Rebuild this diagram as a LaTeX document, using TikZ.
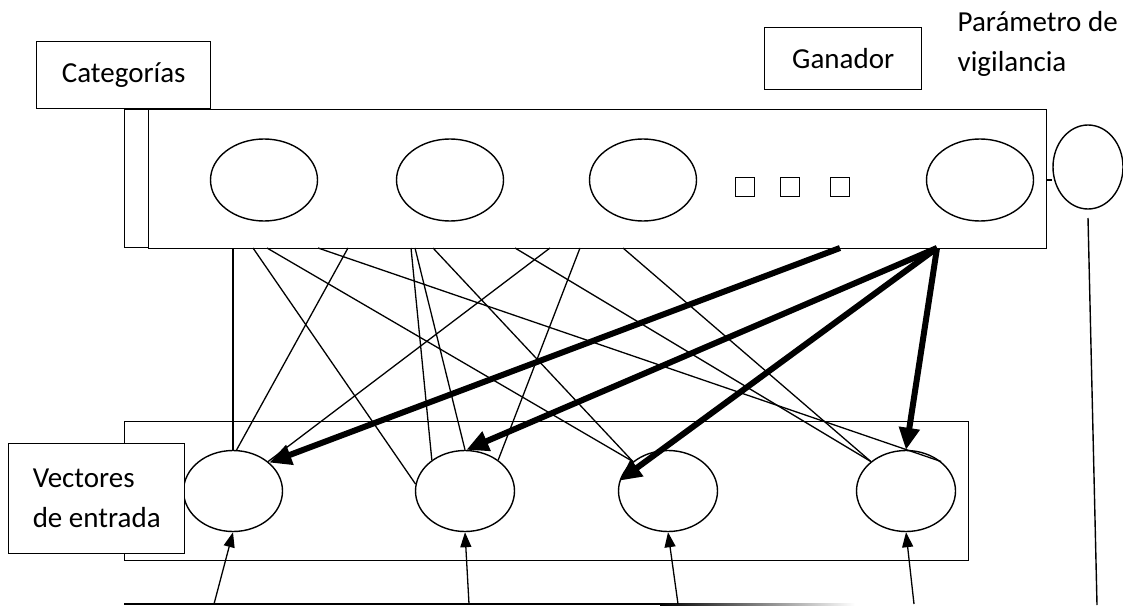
\documentclass[tikz,border=0pt]{standalone}
\usepackage{fontspec}
\setmainfont{Carlito}
\usetikzlibrary{arrows.meta,shapes.geometric}
\begin{document}
\begin{tikzpicture}[x=1pt,y=-1pt,
  line width=1.4pt,
  txt/.style={font=\fontsize{29}{40}\selectfont},
  panel/.style={draw, rectangle, inner sep=0pt, anchor=north west},
  tag/.style={draw, fill=white, rectangle, inner sep=0pt, anchor=north west, txt},
  topunit/.style={draw, ellipse, fill=white, minimum width=107pt, minimum height=82pt, inner sep=0pt},
  inunit/.style={draw, ellipse, fill=white, minimum width=99pt, minimum height=81pt, inner sep=0pt},
  dots/.style={draw, rectangle, minimum size=19pt, inner sep=0pt},
  link/.style={line width=1.3pt},
  win/.style={line width=6pt, -{Triangle[length=22pt,width=20pt]}},
  feed/.style={line width=1.3pt, -{Triangle[length=15pt,width=11pt]}}
]
\useasboundingbox (0,0) rectangle (1123,607);

% input layer frame and its units
\node[panel, minimum width=844pt, minimum height=139pt] (inframe) at (124,421) {};
\node[inunit] (b1) at (233,491) {};
\node[inunit] (b2) at (465,491) {};
\node[inunit] (b3) at (668,491) {};
\node[inunit] (b4) at (906,491) {};

% category layer
\node[panel, minimum width=24pt, minimum height=138pt] (strip) at (124,109) {};
\node[panel, fill=white, minimum width=898pt, minimum height=139pt] (catframe) at (148,109) {};
\node[topunit] (t1) at (264,180) {};
\node[topunit] (t2) at (450,180) {};
\node[topunit] (t3) at (643,180) {};
\node[topunit] (t4) at (980,180) {};
\node[dots] (d1) at (745,187) {};
\node[dots] (d2) at (790,187) {};
\node[dots] (d3) at (840,187) {};

% vigilance unit
\node[draw, ellipse, minimum width=70pt, minimum height=84pt, inner sep=0pt] (vig) at (1088,167) {};
\coordinate (vigjoin) at (1046,180);
\draw (vigjoin) -- (vig.west |- vigjoin);
\coordinate (vigtop) at (1088,218);
\coordinate (vigbot) at (1097,605);
\draw (vigtop) -- (vigbot);

% labels
\node[tag, minimum width=174pt, minimum height=67pt] (cat) at (36,41) {Categorías};
\node[tag, minimum width=157pt, minimum height=62pt] (gan) at (764,27) {Ganador};
\node[tag, minimum width=176pt, minimum height=110pt, align=left] (vec) at (8,443) {Vectores\\de entrada};
\node[txt, anchor=base west, align=left, inner sep=0pt] (param) at (957,72) {Parámetro de\\vigilancia};

% start points on the lower edge of the category layer
\foreach \x in {233,253,267,318,348,411,415,433,515,550,580,623,840,937}
  \coordinate (s\x) at (\x,248);

% bottom-up weights
\draw[link] (s233) -- (b1.north);
\draw[link] (s348) -- (b1.85);
\draw[link] (s550) -- (b1.40);
\draw[link] (s253) -- (b2.172);
\draw[link] (s411) -- (b2.137);
\draw[link] (s415) -- (b2.north);
\draw[link] (s580) -- (b2.43);
\draw[link] (s267) -- (b3.140);
\draw[link] (s433) -- (b3.140);
\draw[link] (s515) -- (b4.140);
\draw[link] (s623) -- (b4.140);
\draw[link] (s318) -- (b4.40);

% winner's top-down weights
\draw[win] (s840) -- (b1.38);
\draw[win] (s937) -- (b2.88);
\draw[win] (s937) -- (b3.168);
\draw[win] (s937) -- (b4.north);

% input rail and feeds
\coordinate (rail) at (124,604);
\coordinate (railfade) at (660,604);
\draw[line width=1.8pt] (rail) -- (railfade);
\shade[left color=black, right color=white] (660,603.1) rectangle (855,605.2);
\coordinate (f1) at (214,604);
\coordinate (f2) at (469,604);
\coordinate (f3) at (678,604);
\coordinate (f4) at (914,604);
\draw[feed] (f1) -- (b1.south);
\draw[feed] (f2) -- (b2.south);
\draw[feed] (f3) -- (b3.south);
\draw[feed] (f4) -- (b4.south);
\end{tikzpicture}
\end{document}
